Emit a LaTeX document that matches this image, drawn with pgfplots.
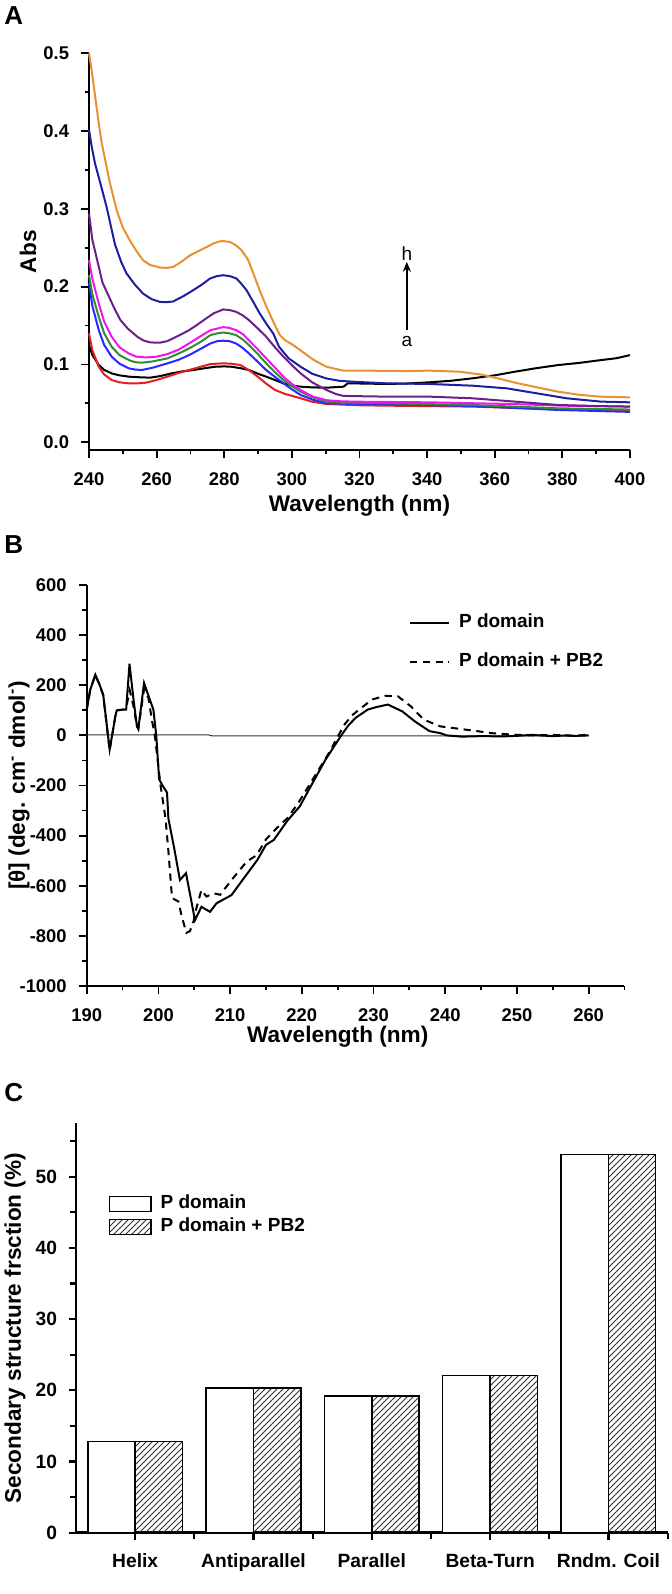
\documentclass[border=0pt]{standalone}
\usepackage{pgfplots}
\pgfplotsset{compat=1.18}
\usepackage{fontspec}
\setmainfont{Liberation Sans}
\usetikzlibrary{arrows.meta,patterns}
\definecolor{corange}{RGB}{232,145,47}
\definecolor{cnavy}{RGB}{30,30,160}
\definecolor{cpurple}{RGB}{107,31,140}
\definecolor{cmagenta}{RGB}{240,20,240}
\definecolor{cgreen}{RGB}{50,140,50}
\definecolor{cblue}{RGB}{40,40,255}
\definecolor{cred}{RGB}{228,30,30}
\begin{document}
\begin{tikzpicture}
\path[use as bounding box] (0,0) rectangle (336pt,-797pt);
\pgfplotsset{
  myaxis/.style={
    scale only axis,
    axis lines*=left,
    tick align=outside,
    clip=false,
    axis line style={line width=0.9pt},
    every tick/.style={black, line width=0.9pt},
    major tick length=4pt,
    minor tick length=2.2pt,
    tick label style={font=\bfseries\fontsize{9.2}{9.2}\selectfont, inner sep=0pt},
    label style={font=\bfseries\fontsize{11.3}{13}\selectfont},
    xticklabel style={anchor=base},
    yticklabel style={anchor=east},
    xticklabel shift=13.7pt,
    yticklabel shift=5.8pt,
  }
}
\node[anchor=west, font=\bfseries\fontsize{13}{13}\selectfont, inner sep=0pt] at (2pt,-8pt) {A};
\node[anchor=west, font=\bfseries\fontsize{13}{13}\selectfont, inner sep=0pt] at (2pt,-272.5pt) {B};
\node[anchor=west, font=\bfseries\fontsize{13}{13}\selectfont, inner sep=0pt] at (2pt,-546.5pt) {C};

% ---------------- Panel A ----------------
\begin{axis}[myaxis,
  at={(44.5pt,-225pt)}, anchor=south west,
  width=270.5pt, height=198.35pt,
  xmin=240, xmax=400, ymin=-0.01, ymax=0.5,
  xtick={240,260,280,300,320,340,360,380,400},
  xticklabels={240,260,280,300,320,340,360,380,400},
  minor xtick={250,270,290,310,330,350,370,390},
  ytick={0,0.1,0.2,0.3,0.4,0.5},
  yticklabels={0.0,0.1,0.2,0.3,0.4,0.5},
  minor ytick={0.05,0.15,0.25,0.35,0.45},
  xlabel={Wavelength (nm)}, ylabel={Abs},
  xlabel style={at={(axis description cs:0.5,-0.141)}, anchor=center},
  ylabel style={at={(axis description cs:-0.1128,0.5)}, anchor=center},
]
% a (black)
\addplot[black, line width=1pt] coordinates {(240,0.125) (241,0.112) (242.9,0.0992) (244.5,0.093) (246.7,0.0885) (249,0.086) (251.8,0.0843) (255,0.0835) (258.1,0.083) (261,0.085) (264.5,0.0885) (267.5,0.091) (270.8,0.0928) (274,0.095) (277.2,0.097) (280,0.0975) (282.3,0.097) (285,0.095) (287.3,0.0928) (290,0.088) (292.4,0.0843) (295,0.080) (297.5,0.0757) (300,0.073) (302.6,0.0714) (306,0.0705) (310.2,0.0701) (315.3,0.0714) (316.5,0.0757) (320,0.0755) (328,0.0749) (334,0.0755) (340.6,0.077) (347,0.079) (353.3,0.0821) (360,0.086) (366,0.0907) (372,0.095) (378.7,0.0992) (385,0.102) (391.4,0.1056) (396,0.108) (400,0.112)};
% b (red)
\addplot[cred, line width=1pt] coordinates {(240,0.140) (241,0.118) (242.9,0.097) (244.5,0.087) (246.7,0.080) (249,0.077) (251.8,0.0757) (254,0.0755) (256.9,0.0766) (260,0.080) (263.2,0.0843) (266.5,0.089) (269.6,0.0928) (273,0.097) (275.9,0.1005) (279.7,0.1014) (282,0.101) (284.8,0.0992) (287.5,0.092) (289.9,0.0843) (292.5,0.075) (295,0.0672) (298,0.062) (302.6,0.0565) (306,0.052) (310.2,0.0492) (320,0.0475) (328,0.047) (353.3,0.0458) (378.7,0.0423) (400,0.0415)};
% c (blue)
\addplot[cblue, line width=1pt] coordinates {(240,0.205) (241,0.175) (242.9,0.144) (244.5,0.125) (246.7,0.110) (249,0.101) (251.8,0.095) (253.5,0.0935) (255.6,0.0928) (259,0.096) (263.2,0.1014) (266.5,0.106) (269.6,0.112) (273,0.120) (275.9,0.127) (278,0.130) (279.7,0.1305) (281.5,0.130) (283.5,0.127) (285.5,0.121) (287.3,0.1142) (290,0.103) (292.4,0.0928) (295,0.084) (297.5,0.0757) (300,0.068) (302.6,0.0607) (306,0.055) (310.2,0.050) (320,0.049) (328,0.0488) (353.3,0.0466) (378.7,0.0415) (400,0.0390)};
% d (green)
\addplot[cgreen, line width=1pt] coordinates {(240,0.215) (241,0.19) (242.9,0.161) (244.5,0.14) (246.7,0.1228) (249,0.112) (251.8,0.1056) (253.5,0.103) (255.6,0.1022) (259,0.104) (263.2,0.1078) (266.5,0.114) (269.6,0.1206) (273,0.129) (275.9,0.1377) (278,0.140) (279.7,0.141) (281.5,0.140) (283.5,0.1377) (285.5,0.132) (287.3,0.1249) (290,0.113) (292.4,0.1014) (295,0.090) (297.5,0.080) (300,0.072) (302.6,0.065) (306,0.058) (310.2,0.0522) (315,0.0505) (328,0.050) (353.3,0.0479) (378.7,0.0436) (400,0.0420)};
% e (magenta)
\addplot[cmagenta, line width=1pt] coordinates {(240,0.234) (241,0.21) (242.9,0.178) (244.5,0.155) (246.7,0.1356) (249,0.122) (251.8,0.114) (254,0.110) (256.9,0.109) (260,0.110) (263.2,0.1133) (266.5,0.119) (269.6,0.127) (272.5,0.135) (275.9,0.144) (279.7,0.148) (281.5,0.147) (283.5,0.144) (285.5,0.139) (287.3,0.131) (290,0.119) (292.4,0.1078) (295,0.096) (297.5,0.084) (300,0.075) (302.6,0.067) (306,0.059) (310.2,0.054) (315,0.0525) (321.6,0.052) (340.6,0.0513) (366,0.049) (380,0.047) (400,0.0458)};
% f (purple)
\addplot[cpurple, line width=1pt] coordinates {(240,0.294) (241,0.26) (242.9,0.2254) (244,0.205) (245.5,0.191) (247.5,0.172) (249.3,0.157) (251.5,0.146) (254.3,0.1356) (256,0.131) (258.1,0.1283) (261,0.128) (263.2,0.130) (266.5,0.137) (269.6,0.144) (272,0.151) (274.6,0.159) (277,0.166) (279.7,0.1707) (281.5,0.170) (283.5,0.1677) (285.5,0.163) (287.3,0.157) (290,0.146) (292.4,0.1356) (295,0.122) (297.5,0.110) (300,0.099) (302.6,0.0885) (306,0.077) (310.2,0.0672) (313,0.062) (315.3,0.0595) (328,0.0586) (340.6,0.0586) (353.3,0.0565) (366,0.0522) (378.7,0.0479) (390,0.0465) (400,0.0458)};
% g (navy)
\addplot[cnavy, line width=1pt] coordinates {(240,0.402) (240.8,0.38) (241.8,0.358) (243.3,0.334) (245.2,0.3025) (247.7,0.254) (249.5,0.232) (251.1,0.217) (253.5,0.203) (256,0.191) (258.5,0.184) (261,0.1804) (263,0.1800) (264.9,0.181) (268,0.188) (270.8,0.1954) (273.5,0.203) (275.8,0.2105) (277.8,0.2135) (279.7,0.2147) (281.7,0.2135) (283.6,0.2105) (285,0.204) (286.6,0.1954) (288.5,0.181) (290.5,0.1655) (292.5,0.152) (294.5,0.1397) (296.2,0.1228) (299,0.108) (302.6,0.097) (306,0.088) (310.2,0.082) (314,0.079) (318,0.0778) (328,0.0757) (340.6,0.0749) (353.3,0.0727) (363.5,0.0693) (372.4,0.0629) (381.2,0.0565) (391.4,0.0522) (400,0.0513)};
% h (orange)
\addplot[corange, line width=1pt] coordinates {(240,0.500) (240.8,0.478) (241.8,0.445) (242.7,0.416) (243.7,0.386) (245.2,0.354) (246.2,0.333) (248.2,0.298) (250,0.276) (252,0.26) (254,0.246) (256,0.234) (258,0.228) (261,0.2246) (263,0.224) (264.9,0.2254) (267,0.231) (269.8,0.240) (272,0.245) (274.8,0.251) (277,0.256) (279.2,0.2588) (281.7,0.2575) (283.5,0.253) (285.1,0.2468) (287,0.235) (288.6,0.217) (290.5,0.195) (292.5,0.174) (294.5,0.155) (296.4,0.138) (298,0.131) (300,0.126) (302.6,0.118) (306.4,0.106) (310.2,0.097) (315.3,0.092) (322,0.092) (334,0.0915) (340.6,0.092) (349.5,0.0907) (356,0.087) (361,0.082) (366,0.0766) (372,0.071) (378.7,0.065) (385,0.061) (391,0.0586) (400,0.0577)};
\draw[line width=0.8pt, -{Stealth[length=5pt,width=4pt]}] (axis cs:334,0.144) -- (axis cs:334,0.232);
\node[font=\fontsize{9.5}{9.5}\selectfont] at (axis cs:334,0.2425) {h};
\node[font=\fontsize{9.5}{9.5}\selectfont] at (axis cs:334,0.129) {a};
\end{axis}

% ---------------- Panel B ----------------
\begin{axis}[myaxis,
  at={(43.35pt,-493pt)}, anchor=south west,
  width=268.9pt, height=200.5pt,
  xmin=190, xmax=265, ymin=-1000, ymax=600,
  xtick={190,200,210,220,230,240,250,260},
  xticklabels={190,200,210,220,230,240,250,260},
  minor xtick={195,205,215,225,235,245,255,265},
  ytick={-1000,-800,-600,-400,-200,0,200,400,600},
  yticklabels={-1000,-800,-600,-400,-200,0,200,400,600},
  minor ytick={-900,-700,-500,-300,-100,100,300,500},
  xlabel={Wavelength (nm)},
  ylabel={[θ] (deg. cm\textsuperscript{-} dmol\textsuperscript{-})},
  xlabel style={at={(axis description cs:0.4667,-0.126)}, anchor=center},
  ylabel style={at={(axis description cs:-0.1259,0.5)}, anchor=center},
  legend style={at={(axis description cs:0.5987,0.927)}, anchor=north west, draw=none, fill=none, inner sep=0pt,
    row sep=10.7pt, column sep=4.5pt,
    nodes={inner sep=0pt, text height=6.5pt, text depth=2pt},
    font=\bfseries\fontsize{9.5}{10}\selectfont},
  legend cell align=left,
  legend image code/.code={\draw[#1] (0pt,0pt) -- (19.5pt,0pt);},
]
\addplot[black!80, line width=0.5pt, forget plot] coordinates {(190,2) (207,2) (207.5,-2) (260,-2)};
\addplot[black, line width=1pt] coordinates {(190,103) (190.5,183) (191.2,242) (191.7,209) (192.3,163) (193.2,-56) (193.6,10) (194,77) (194.2,100) (195.1,103) (195.5,103) (195.97,286) (196.5,150) (197,37) (197.2,26) (198,209) (198.8,143) (199.3,103) (199.7,0) (200.1,-175) (200.6,-201) (201.2,-228) (201.4,-333) (202.2,-450) (203.0,-577) (203.85,-550) (205.1,-737) (206,-684) (207.2,-704) (208.1,-670) (210.2,-637) (211.4,-590) (213.8,-497) (215,-437) (216.1,-417) (218,-340) (219.7,-284) (221.5,-190) (223.3,-97) (225.5,0) (226.5,40) (227.5,70) (229.2,103) (230.4,113) (232,123) (234,96) (235.8,55) (237.8,17) (239.3,9) (240.2,0) (242.3,-5) (245,-3) (248,-4) (250,-2) (252,2) (255,-3) (257,0) (258,-2) (260,0)};
\addlegendentry{P domain}
\addplot[black, line width=1pt, dash pattern=on 3.6pt off 2.8pt] coordinates {(190,103) (190.5,183) (191.2,240) (191.7,209) (192.3,160) (193.2,-60) (194,77) (194.2,100) (195.1,103) (195.5,110) (196,180) (196.5,120) (197,37) (197.2,26) (198,185) (198.6,150) (199.1,60) (199.5,0) (200.3,-200) (201,-333) (201.4,-464) (201.9,-649) (202.8,-663) (203.2,-716) (203.9,-788) (204.4,-781) (204.9,-742) (205.3,-689) (206,-617) (206.7,-643) (207.7,-630) (208.6,-636) (210.4,-570) (212.3,-504) (213.7,-478) (215,-415) (216.5,-370) (218,-330) (219.5,-270) (221,-200) (222.5,-130) (224,-60) (225,-5) (226,45) (227,80) (228,103) (229.8,143) (231.6,158) (233.4,156) (235.2,116) (237,63) (239.3,36) (242.3,25) (244.7,16) (246.4,9) (249.4,3) (252,0) (255,2) (258,-2) (260,3)};
\addlegendentry{P domain + PB2}
\end{axis}

% ---------------- Panel C ----------------
\begin{axis}[myaxis,
  at={(38pt,-766.35pt)}, anchor=south west,
  width=295.8pt, height=204.7pt,
  xmin=-0.5, xmax=4.5, ymin=0, ymax=57.5,
  axis line style={line width=1.4pt},
  every tick/.style={black, line width=1.1pt},
  major tick length=3.5pt, minor tick length=3pt,
  xtick={0,1,2,3,4},
  xticklabels={Helix,Antiparallel,Parallel,Beta-Turn,Rndm. Coil},
  minor xtick={0.5,1.5,2.5,3.5,4.5},
  ytick={0,10,20,30,40,50}, yticklabels={0,10,20,30,40,50},
  minor ytick={5,15,25,35,45,55},
  xticklabel style={font=\bfseries\fontsize{9.6}{9.6}\selectfont},
  yticklabel style={font=\bfseries\fontsize{9.6}{9.6}\selectfont},
  ylabel={Secondary structure frsction (\%)},
  ylabel style={at={(axis description cs:-0.103,0.5)}, anchor=center},
  ybar, bar width=0.4,
  legend style={at={(axis description cs:0.0546,0.825)}, anchor=north west, draw=none, fill=none, inner sep=0pt,
    row sep=3pt, column sep=4.5pt,
    nodes={inner sep=0pt, text height=6.5pt, text depth=2pt},
    font=\bfseries\fontsize{9.5}{10}\selectfont},
  legend cell align=left,
  legend image code/.code={\draw[#1] (0pt,-3.75pt) rectangle (20.8pt,3.75pt);},
]
\addplot[draw=black, fill=white, line width=0.7pt, bar shift=-0.2] coordinates {(0,12.8) (1,20.3) (2,19.2) (3,22.1) (4,53.1)};
\addlegendentry{P domain}
\addplot[draw=black, pattern=north east lines, pattern color=black!80, line width=0.7pt, bar shift=0.2] coordinates {(0,12.8) (1,20.3) (2,19.2) (3,22.1) (4,53.1)};
\addlegendentry{P domain + PB2}
\end{axis}
\end{tikzpicture}
\end{document}
